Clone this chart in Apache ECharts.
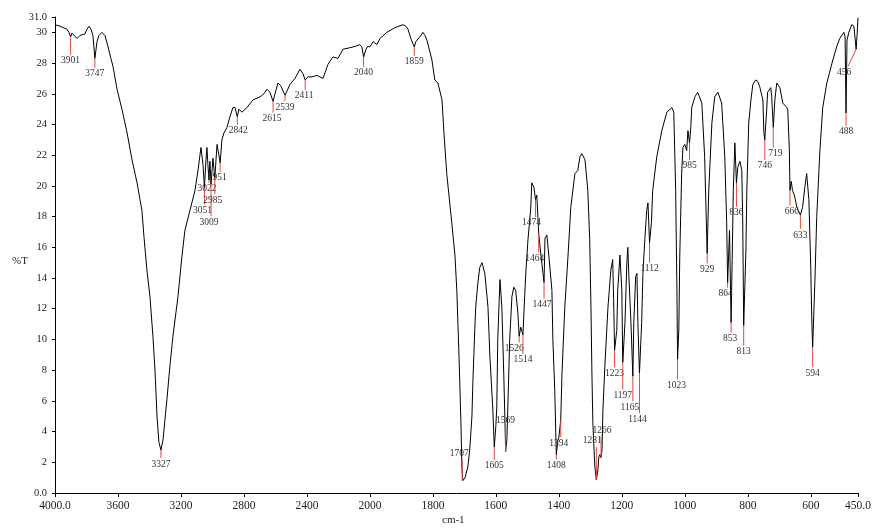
<!DOCTYPE html>
<html><head><meta charset="utf-8">
<script src="https://cdn.jsdelivr.net/npm/echarts/dist/echarts.min.js"></script>
<style>html,body{margin:0;padding:0;background:#fff}#c{width:875px;height:528px}</style>
</head><body><div id="c"></div>
<script>
// ---- data ----
const wavenumbers = [4000,3968,3924,3911,3901,3892,3860,3841,3810,3797,3784,3771,3759,3747,3733,3721,3702,3683,3664,3645,3632,3606,3575,3543,3511,3479,3448,3435,3416,3397,3378,3365,3352,3340,3327,3314,3302,3289,3270,3251,3219,3194,3175,3143,3111,3092,3073,3060,3051,3041,3035,3029,3022,3016,3009,2997,2985,2971,2959,2951,2940,2927,2908,2889,2870,2857,2842,2832,2813,2781,2743,2698,2673,2654,2635,2615,2603,2584,2565,2539,2508,2476,2444,2425,2411,2394,2368,2337,2298,2267,2235,2203,2171,2127,2089,2064,2051,2040,2025,2013,2000,1990,1978,1968,1946,1921,1895,1886,1879,1870,1859,1854,1848,1838,1832,1825,1819,1803,1794,1784,1771,1765,1756,1740,1730,1724,1717,1711,1708,1705,1698,1689,1683,1676,1673,1667,1664,1657,1651,1644,1635,1625,1619,1610,1605,1600,1597,1594,1587,1584,1581,1575,1571,1569,1565,1562,1556,1549,1543,1537,1530,1526,1521,1514,1511,1505,1498,1489,1486,1479,1474,1470,1464,1457,1447,1444,1438,1432,1422,1419,1413,1408,1403,1400,1394,1390,1381,1371,1362,1349,1340,1333,1327,1317,1308,1302,1298,1295,1292,1286,1281,1276,1273,1270,1266,1263,1260,1254,1244,1235,1229,1226,1223,1216,1213,1206,1200,1197,1190,1184,1181,1178,1171,1165,1162,1156,1152,1149,1144,1137,1133,1127,1121,1117,1112,1106,1102,1089,1073,1057,1041,1035,1029,1025,1023,1019,1016,1010,1006,1000,994,990,985,981,978,968,959,946,937,929,924,914,905,895,883,873,867,864,858,853,846,841,836,832,825,819,816,813,806,803,797,790,784,775,768,762,752,749,746,743,740,737,727,724,719,714,708,698,689,676,673,668,666,662,658,652,644,633,626,619,613,606,600,597,594,590,587,581,571,562,549,540,530,517,508,495,491,488,485,479,470,463,460,456,453,450];
const transmittance = [30.5,30.4,30.2,30.0,29.7,29.95,29.6,29.8,29.9,30.2,30.4,30.2,29.8,28.3,29.4,29.8,30.0,29.8,29.1,28.3,27.8,26.3,25.0,23.5,21.7,20.2,18.4,16.7,14.5,12.8,10.2,8.0,5.0,3.3,2.8,3.45,4.75,6.1,8.3,10.2,12.8,15.4,17.1,18.4,19.7,21.0,22.5,21.4,19.9,21.7,22.5,21.4,20.4,21.6,20.1,21.8,20.5,22.7,22.0,21.5,23.0,23.45,23.8,24.5,25.1,25.1,24.5,25.0,24.8,25.1,25.6,25.8,26.0,26.3,26.1,25.5,26.0,26.7,26.5,25.9,26.6,27.0,27.6,27.3,26.9,27.1,27.1,27.2,27.0,27.9,28.4,28.3,28.9,29.0,29.1,29.2,29.05,28.4,28.9,29.1,29.05,29.4,29.2,29.6,30.0,30.3,30.5,30.4,30.2,29.6,29.05,29.4,29.5,29.8,30.0,29.8,29.5,28.2,26.9,26.7,25.6,23.5,20.8,17.6,15.5,13.2,8.9,4.6,1.8,0.8,1.0,1.7,2.8,5.0,7.2,10.6,12.1,13.7,14.7,15.0,14.3,12.1,8.9,5.6,3.0,4.4,5.6,10.0,13.9,14.0,12.1,7.8,4.6,2.7,3.5,5.6,10.0,12.8,13.4,13.2,11.7,10.2,10.8,10.3,11.7,14.3,16.5,18.6,20.2,19.9,19.1,19.4,16.9,15.5,13.7,16.6,16.8,15.5,13.2,10.0,6.7,2.5,3.45,3.6,4.75,7.8,12.1,15.4,18.6,20.8,21.0,21.9,22.1,21.7,19.7,16.5,12.1,7.8,4.6,1.8,0.85,1.5,2.35,2.5,2.3,2.8,5.4,8.2,12.1,14.5,15.2,12.6,9.3,10.6,13.2,15.5,13.2,8.5,11.1,15.0,16.0,14.3,11.1,7.6,11.1,14.1,14.3,11.1,7.8,11.1,14.3,16.5,18.4,18.9,16.3,17.6,19.7,21.9,23.6,24.8,25.1,24.8,19.7,13.2,8.7,10.6,15.4,20.8,22.5,22.7,22.3,23.6,22.8,23.8,25.1,25.8,26.1,25.4,21.9,15.6,19.7,24.1,25.8,26.1,25.4,21.9,17.6,13.7,17.1,11.1,19.7,22.8,20.2,21.2,21.6,21.0,17.6,10.9,15.8,19.7,24.1,25.6,26.6,26.9,26.8,26.45,25.6,23.5,23.0,24.0,24.95,26.1,26.4,25.8,23.8,25.6,26.7,26.4,25.4,25.1,24.95,22.3,19.7,20.3,19.7,19.4,18.6,18.1,18.6,19.9,20.8,19.1,14.7,11.5,9.5,11.9,13.7,18.0,22.3,25.1,26.7,27.4,28.2,29.1,29.6,30.0,29.7,24.75,29.5,30.0,30.5,30.4,30.3,28.9,29.8,30.95];
const peakWavenumbers = [3901,3747,3327,3051,3022,3009,2985,2951,2842,2615,2539,2411,2040,1859,1707,1605,1569,1526,1514,1474,1464,1447,1408,1394,1281,1266,1223,1197,1165,1144,1112,1023,985,929,864,853,836,813,746,719,666,633,594,488,456];
const peakTransmittance = [29.64,28.34,2.8,19.9,20.4,20.1,20.5,21.5,24.5,25.5,25.9,26.9,28.4,29.05,0.8,3.0,2.7,10.2,10.3,19.1,16.9,13.7,2.5,4.75,0.85,2.3,9.3,8.5,7.6,7.8,16.3,8.7,22.8,15.6,13.7,11.1,20.2,10.9,23.0,23.8,19.7,18.1,9.5,24.75,28.9];
const yTickMin = 0, yTickMax = 31, yTickStep = 2;

// ---- layout of peak leaders: [length px (+down/-up), label dx, leader end dx] ----
const leaderLayout = [[17,0],[10,0],[8,0],[17,-2],[3,-2],[32,-2],[16,-2],[9,-3],[8,1],[11,-1],[6,0],[10,-1],[10,0],[9,0],[-21,-3],[13,0],[-25,0],[6,-5],[19,0],[17,-4],[19,-4],[16,-2],[5,0],[17,-2],[-33,-4],[-21,1],[17,0],[27,0],[25,-3],[40,-2],[20,0],[20,-1],[17,0],[10,0],[5,-2],[10,-1],[24,0],[20,0],[20,0],[20,2],[15,2],[14,0],[20,0],[13,0],[17,-4,-8]];

// piecewise axis: 4000-2000 compressed by 2, 2000-450 full scale
function toAxis(w){ return w >= 2000 ? (4000 - w) / 2 : 1000 + (2000 - w); }
function fromAxis(t){ return t <= 1000 ? 4000 - 2 * t : 2000 - (t - 1000); }

const FONT = '"Liberation Serif", "Times New Roman", serif';
const chart = echarts.init(document.getElementById('c'));
const lineData = wavenumbers.map((w, i) => [toAxis(w), transmittance[i]]);
const peakData = peakWavenumbers.map((w, i) => [toAxis(w), peakTransmittance[i]]);
const xMax = toAxis(450);

chart.setOption({
  animation: false,
  backgroundColor: '#fff',
  grid: { left: 55, right: 17, top: 17, bottom: 35 },
  xAxis: {
    type: 'value', min: 0, max: xMax, interval: 200,
    axisLine: { lineStyle: { color: '#000', width: 1 } },
    axisTick: { show: true, inside: false, length: 4, lineStyle: { color: '#000' } },
    splitLine: { show: false },
    axisLabel: {
      color: '#222', fontFamily: FONT, fontSize: 11.5, margin: 7,
      formatter: function (t) {
        const w = fromAxis(t);
        return (t === 0 || t === xMax) ? w.toFixed(1) : String(Math.round(w));
      }
    }
  },
  yAxis: {
    type: 'value', min: yTickMin, max: yTickMax, interval: yTickStep,
    axisLine: { show: true, lineStyle: { color: '#000', width: 1 } },
    axisTick: { show: true, inside: false, length: 3, lineStyle: { color: '#000' } },
    splitLine: { show: false },
    axisLabel: {
      color: '#222', fontFamily: FONT, fontSize: 10.5, margin: 8,
      formatter: function (v) { return (v === yTickMin || v === yTickMax) ? v.toFixed(1) : String(v); }
    }
  },
  graphic: [
    { type: 'text', left: 12, top: 256, style: { text: '%T', fill: '#222', font: '11px ' + FONT } },
    { type: 'text', left: 442, top: 515, style: { text: 'cm-1', fill: '#222', font: '11px ' + FONT } }
  ],
  series: [
    {
      type: 'line', data: lineData, showSymbol: false, symbol: 'none',
      lineStyle: { color: '#000', width: 1 }, smooth: false, silent: true, z: 2
    },
    {
      type: 'custom', data: peakData, z: 3, silent: true,
      renderItem: function (params, api) {
        const i = params.dataIndex;
        const p = api.coord([api.value(0), api.value(1)]);
        const L = leaderLayout[i];
        const len = L[0], dx = L[1] || 0, lx = L[2] || 0;
        const ex = p[0] + lx, ey = p[1] + len;
        const down = len >= 0;
        return {
          type: 'group',
          children: [
            { type: 'line', shape: { x1: p[0], y1: p[1], x2: ex, y2: ey },
              style: { stroke: '#e0483f', lineWidth: 1 } },
            { type: 'text', x: ex + dx, y: down ? ey + 1 : ey - 1,
              style: { text: String(peakWavenumbers[i]), fill: '#333', font: '9.5px ' + FONT,
                       align: 'center', verticalAlign: down ? 'top' : 'bottom' } }
          ]
        };
      }
    }
  ]
});
</script></body></html>
